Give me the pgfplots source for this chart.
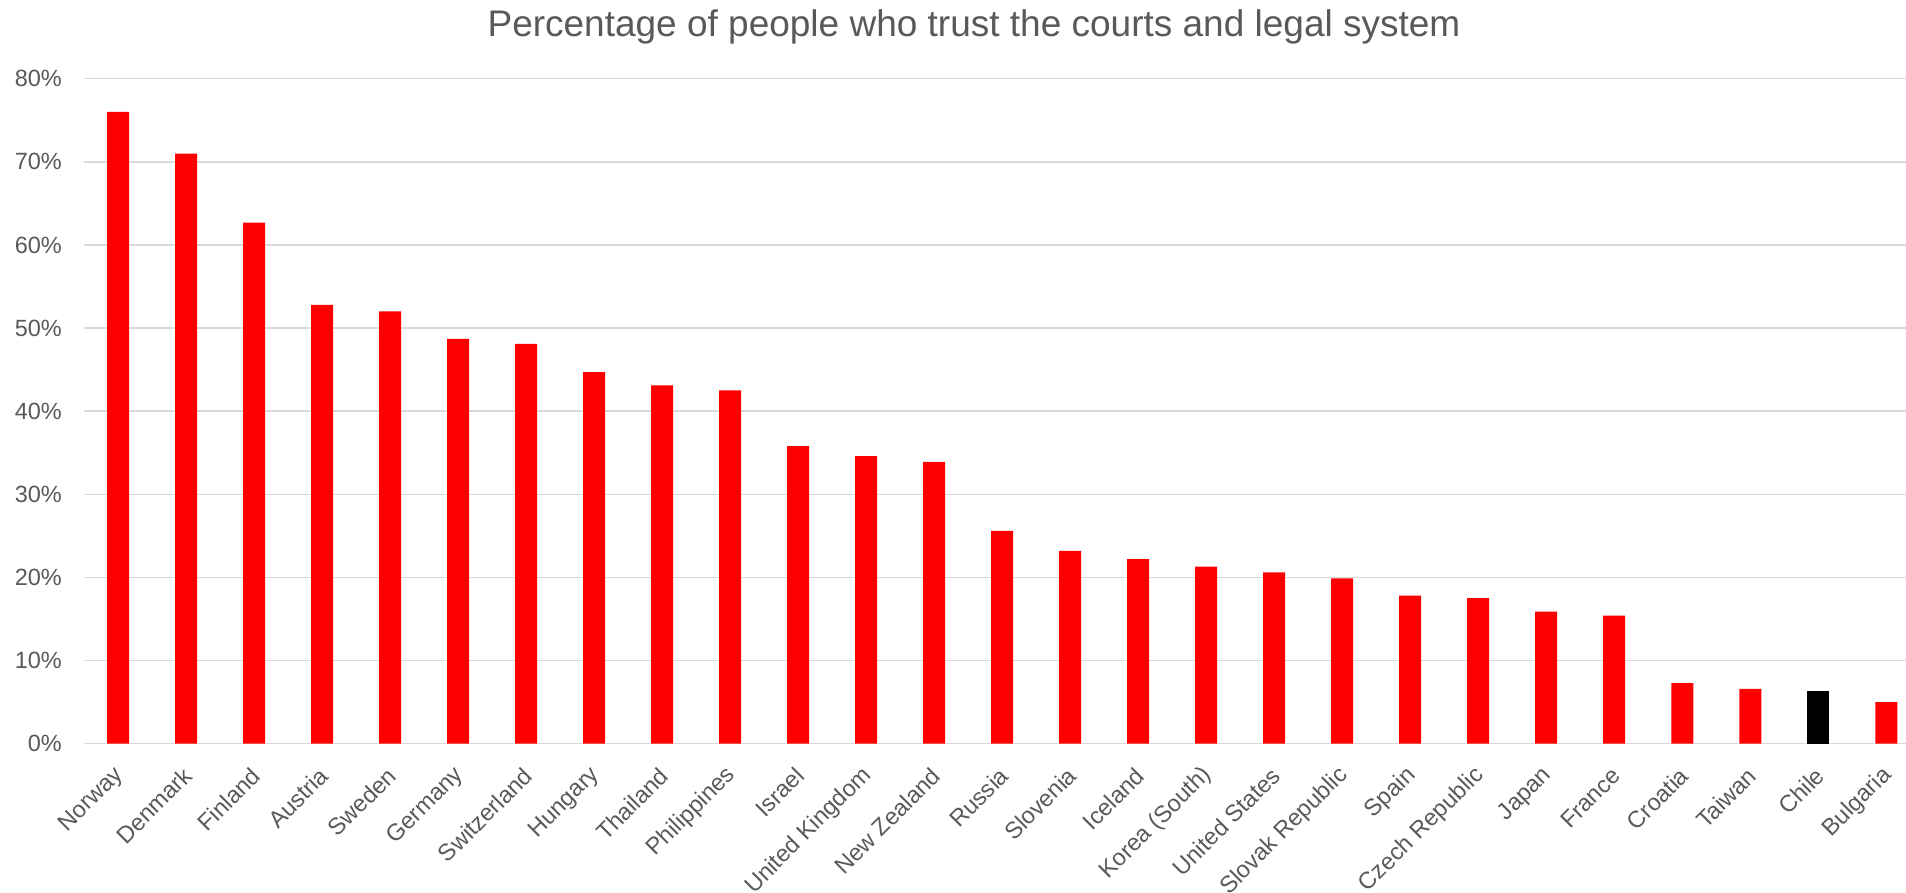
\documentclass[border=0pt]{standalone}
\usepackage{pgfplots}
\pgfplotsset{compat=1.18}
\usepackage{fontspec}
\setmainfont{Liberation Sans}
\definecolor{txt}{HTML}{595959}
\definecolor{gridc}{HTML}{D9D9D9}
\begin{document}
\begin{tikzpicture}[x=1pt,y=1pt]
\useasboundingbox (0,0) rectangle (1906,893);
\begin{axis}[
  at={(84pt,149.3pt)}, anchor=south west,
  scale only axis, width=1822pt, height=665pt,
  xmin=-0.5, xmax=26.29, ymin=0, ymax=80,
  axis line style={draw=none},
  tick style={draw=none},
  ymajorgrids, grid style={gridc, line width=1.6pt},
  ytick={0,10,...,80},
  yticklabels={0\%,10\%,20\%,30\%,40\%,50\%,60\%,70\%,80\%},
  yticklabel style={font=\fontsize{23.5}{28}\selectfont, text=txt, anchor=east, inner sep=0pt, xshift=-22pt},
  xtick={0,...,26},
  xticklabels={Norway,Denmark,Finland,Austria,Sweden,Germany,Switzerland,Hungary,Thailand,Philippines,Israel,United Kingdom,New Zealand,Russia,Slovenia,Iceland,Korea (South),United States,Slovak Republic,Spain,Czech Republic,Japan,France,Croatia,Taiwan,Chile,Bulgaria},
  xticklabel style={font=\fontsize{23.5}{28}\selectfont, text=txt, inner sep=0pt, xshift=2pt, yshift=-28pt, rotate=45, anchor=east},
  clip=false,
]
\addplot[ybar, bar width=22pt, bar shift=0pt, fill=red, draw=none] coordinates {
(0,76.0) (1,71.0) (2,62.7) (3,52.8) (4,52.0) (5,48.7) (6,48.1) (7,44.7) (8,43.1)
(9,42.5) (10,35.8) (11,34.6) (12,33.9) (13,25.6) (14,23.2) (15,22.2) (16,21.3)
(17,20.6) (18,19.9) (19,17.8) (20,17.5) (21,15.9) (22,15.4) (23,7.3) (24,6.6) (26,5.0)
};
\addplot[ybar, bar width=22pt, bar shift=0pt, fill=black, draw=none] coordinates {
(25,6.3)
};
\end{axis}
\node[font=\fontsize{37}{44}\selectfont, text=txt] at (974,866) {Percentage of people who trust the courts and legal system};
\end{tikzpicture}
\end{document}
